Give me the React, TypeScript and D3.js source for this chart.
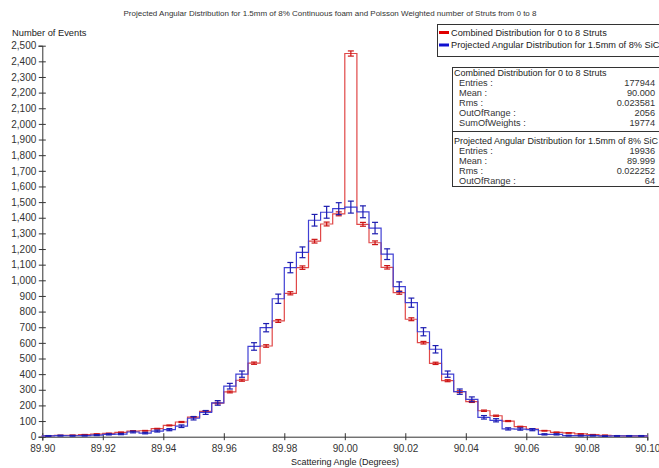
import React, { useEffect, useRef } from 'react';
import * as d3 from 'd3';

// histogram range and binning (50 bins between 89.90 and 90.10)
const xMin = 89.9;
const xMax = 90.1;
const nBins = 50;

// Combined Distribution for 0 to 8 Struts (weighted)
const combined = [
  6, 8, 9, 13, 17, 21, 28, 36, 38, 51,
  72, 94, 125, 162, 215, 286, 361, 470, 580, 740,
  917, 1081, 1250, 1360, 1425, 2450, 1358, 1240, 1083, 921,
  751, 601, 469, 358, 288, 224, 166, 134, 100, 64,
  49, 38, 28, 24, 18, 13, 9, 6, 5, 5,
];

// Projected Angular Distribution for 1.5mm of 8% SiC (raw counts)
const sic = [
  5, 7, 6, 7, 10, 15, 17, 30, 23, 36,
  45, 67, 118, 155, 216, 323, 400, 577, 697, 882,
  1081, 1179, 1384, 1435, 1458, 1468, 1438, 1334, 1167, 959,
  857, 671, 559, 400, 288, 239, 124, 105, 50, 49,
  45, 15, 15, 7, 7, 7, 4, 5, 5, 5,
];

const title =
  'Projected Angular Distribution for 1.5mm of 8% Continuous foam and Poisson Weighted number of Struts from 0 to 8';
const legendLabels = ['Combined Distribution for 0 to 8 Struts', 'Projected Angular Distribution for 1.5mm of 8% SiC'];

const combinedStatNames = ['Entries :', 'Mean :', 'Rms :', 'OutOfRange :', 'SumOfWeights :'];
const combinedStatValues = ['177944', '90.000', '0.023581', '2056', '19774'];
const sicStatNames = ['Entries :', 'Mean :', 'Rms :', 'OutOfRange :'];
const sicStatValues = ['19936', '89.999', '0.022252', '64'];

const combinedEntries = 177944;
const combinedSumOfWeights = 19774;

const font = 'Liberation Sans, Arial, sans-serif';

function App() {
  const svgRef = useRef<SVGSVGElement>(null);

  useEffect(() => {
    const svg = d3.select(svgRef.current);
    svg.selectAll('*').remove();

    const x = d3.scaleLinear().domain([xMin, xMax]).range([42.3, 647.3]);
    const y = d3.scaleLinear().domain([0, 2500]).range([436.7, 45.7]);
    const bw = (xMax - xMin) / nBins;
    const edges = d3.range(nBins + 1).map((i) => xMin + i * bw);

    // title
    svg.append('text')
      .attr('x', 330).attr('y', 16)
      .attr('text-anchor', 'middle')
      .style('font', `8px ${font}`)
      .attr('fill', '#333')
      .text(title);

    // y label
    svg.append('text')
      .attr('x', 12).attr('y', 36)
      .style('font', `9.3px ${font}`)
      .attr('fill', '#222')
      .text('Number of Events');

    // x label
    svg.append('text')
      .attr('x', 345).attr('y', 464.5)
      .attr('text-anchor', 'middle')
      .style('font', `9px ${font}`)
      .attr('fill', '#222')
      .text('Scattering Angle (Degrees)');

    // axes
    const yAxis = svg.append('g')
      .attr('transform', `translate(${x(xMin)},0)`)
      .call(d3.axisLeft(y).ticks(25).tickFormat(d3.format(',')).tickSize(4));
    yAxis.select('.domain').attr('stroke', '#333');
    yAxis.selectAll('.tick line').attr('x1', 3.5).attr('x2', -3.5).attr('stroke', '#333');
    yAxis.selectAll('.tick text')
      .attr('x', -6)
      .style('font', `10px ${font}`)
      .attr('fill', '#333');

    const xAxis = svg.append('g')
      .attr('transform', `translate(0,${y(0)})`)
      .call(d3.axisBottom(x).ticks(10).tickFormat(d3.format('.2f')).tickSize(4));
    xAxis.select('.domain').attr('stroke', '#333');
    xAxis.selectAll('.tick line').attr('y1', -3.5).attr('y2', 3.5).attr('stroke', '#333');
    xAxis.selectAll('.tick text')
      .attr('y', 8)
      .style('font', `10px ${font}`)
      .attr('fill', '#333');

    const series = [
      { values: combined, line: '#e04848', bar: '#cc1515', err: (v: number) => Math.sqrt(v * combinedSumOfWeights / combinedEntries) },
      { values: sic, line: '#4040d4', bar: '#1c1cb0', err: (v: number) => Math.sqrt(v) },
    ];

    const line = d3.line<[number, number]>().x((d) => x(d[0])).y((d) => y(d[1]));

    series.forEach((s) => {
      const pts: [number, number][] = [[edges[0], 0]];
      s.values.forEach((v, i) => {
        pts.push([edges[i], v]);
        pts.push([edges[i + 1], v]);
      });
      pts.push([edges[nBins], 0]);

      svg.append('path')
        .attr('d', line(pts))
        .attr('fill', 'none')
        .attr('stroke', s.line)
        .attr('stroke-width', 1.2);

      const g = svg.append('g').attr('stroke', s.bar).attr('stroke-width', 1.2);
      s.values.forEach((v, i) => {
        const cx = x(edges[i] + bw / 2);
        const e = s.err(v);
        const y1 = y(v - e);
        const y2 = y(v + e);
        g.append('line').attr('x1', cx).attr('x2', cx).attr('y1', y1).attr('y2', y2);
        g.append('line').attr('x1', cx - 3).attr('x2', cx + 3).attr('y1', y1).attr('y2', y1);
        g.append('line').attr('x1', cx - 3).attr('x2', cx + 3).attr('y1', y2).attr('y2', y2);
      });
    });

    // legend
    const legend = svg.append('g');
    legend.append('rect')
      .attr('x', 437.5).attr('y', 24.5).attr('width', 230).attr('height', 32)
      .attr('fill', 'white').attr('stroke', '#333');
    legendLabels.forEach((lab, i) => {
      const ly = 32.5 + i * 12.5;
      legend.append('line')
        .attr('x1', 439).attr('x2', 449).attr('y1', ly).attr('y2', ly)
        .attr('stroke', i === 0 ? '#e00000' : '#1010d0').attr('stroke-width', 3);
      legend.append('text')
        .attr('x', 451).attr('y', ly).attr('dy', '0.35em')
        .style('font', `9.2px ${font}`).attr('fill', '#222')
        .text(lab);
    });

    // stats box
    const stats = svg.append('g');
    stats.append('rect')
      .attr('x', 452.5).attr('y', 67.5).attr('width', 215).attr('height', 119)
      .attr('fill', 'white').attr('stroke', '#333');
    stats.append('line')
      .attr('x1', 452.5).attr('x2', 668).attr('y1', 131.5).attr('y2', 131.5)
      .attr('stroke', '#333');

    const block = (heading: string, names: string[], values: string[], top: number) => {
      stats.append('text')
        .attr('x', 454).attr('y', top).attr('dy', '0.35em')
        .style('font', `9px ${font}`).attr('fill', '#222')
        .text(heading);
      names.forEach((n, i) => {
        const ry = top + 10 * (i + 1);
        stats.append('text')
          .attr('x', 459).attr('y', ry).attr('dy', '0.35em')
          .style('font', `9.2px ${font}`).attr('fill', '#333')
          .text(n);
        stats.append('text')
          .attr('x', 655).attr('y', ry).attr('dy', '0.35em')
          .attr('text-anchor', 'end')
          .style('font', `9.2px ${font}`).attr('fill', '#333')
          .text(values[i]);
      });
    };
    block(legendLabels[0], combinedStatNames, combinedStatValues, 72.7);
    block(legendLabels[1], sicStatNames, sicStatValues, 140.8);

    return () => {
      svg.selectAll('*').remove();
    };
  }, []);

  return (
    <svg
      ref={svgRef}
      width={659}
      height={468}
      style={{ position: 'absolute', left: 0, top: 0, background: 'white' }}
    ></svg>
  );
}

export default App;
